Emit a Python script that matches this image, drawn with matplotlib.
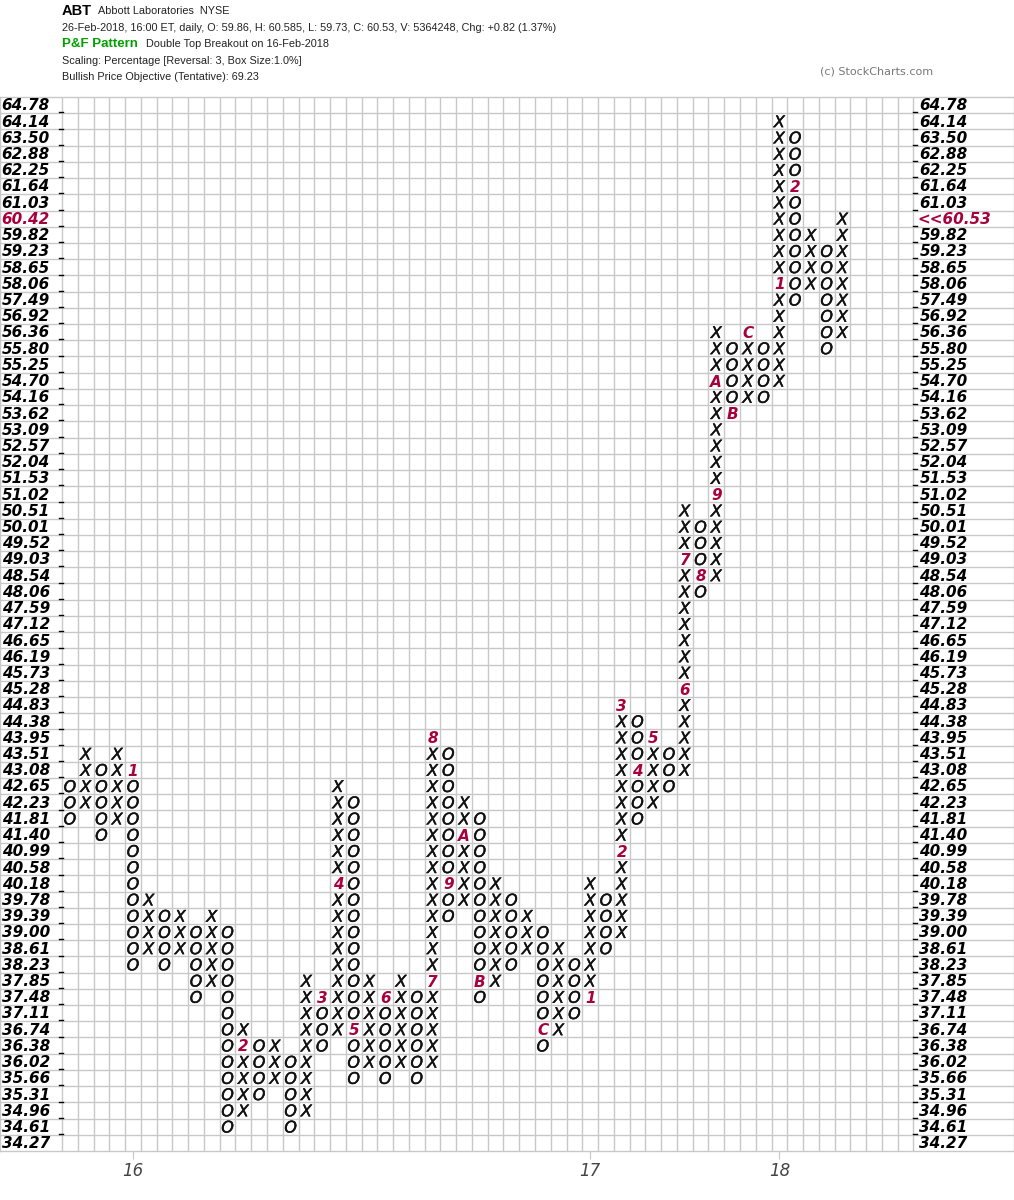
import matplotlib
matplotlib.use('Agg')
import matplotlib.pyplot as plt
import matplotlib.patheffects as pe

plt.rcParams['font.family'] = ['DejaVu Sans']

# box levels, top row first
levels = [64.78, 64.14, 63.50, 62.88, 62.25, 61.64, 61.03, 60.42, 59.82, 59.23,
          58.65, 58.06, 57.49, 56.92, 56.36, 55.80, 55.25, 54.70, 54.16, 53.62,
          53.09, 52.57, 52.04, 51.53, 51.02, 50.51, 50.01, 49.52, 49.03, 48.54,
          48.06, 47.59, 47.12, 46.65, 46.19, 45.73, 45.28, 44.83, 44.38, 43.95,
          43.51, 43.08, 42.65, 42.23, 41.81, 41.40, 40.99, 40.58, 40.18, 39.78,
          39.39, 39.00, 38.61, 38.23, 37.85, 37.48, 37.11, 36.74, 36.38, 36.02,
          35.66, 35.31, 34.96, 34.61, 34.27]

# one entry per P&F column
col_kind = "OXOXOXOXOXOXOXOXOXOXOXOXOXOXOXOXOXOXOXOXOXOXOXOXOX"
col_top = [42.65, 43.51, 43.08, 43.51, 43.08, 39.78, 39.39, 39.39, 39.00, 39.39,
           39.00, 36.74, 36.38, 36.38, 36.02, 37.85, 37.48, 42.65, 42.23, 37.85,
           37.48, 37.85, 37.48, 43.95, 43.51, 42.23, 41.81, 40.18, 39.78, 39.39,
           39.00, 38.61, 38.23, 40.18, 39.78, 44.83, 44.38, 43.95, 43.51, 50.51,
           50.01, 56.36, 55.80, 56.36, 55.80, 64.14, 63.50, 59.82, 59.23, 60.42]
col_bottom = [41.81, 42.23, 41.40, 41.81, 38.23, 38.61, 38.23, 38.61, 37.48, 37.85,
              34.61, 34.96, 35.31, 35.66, 34.61, 34.96, 36.38, 36.74, 35.66, 36.02,
              35.66, 36.02, 35.66, 36.02, 39.39, 39.78, 37.48, 37.85, 38.23, 38.61,
              36.38, 36.74, 37.11, 37.48, 38.61, 39.00, 41.81, 42.23, 42.65, 43.08,
              48.06, 48.54, 53.62, 54.16, 54.16, 54.70, 57.49, 58.06, 55.80, 56.36]

# month markers (1-9, A, B, C) replacing the first box of a month
month_col = [4, 11, 16, 17, 18, 20, 23, 23, 24, 25, 26, 30,
             33, 35, 35, 36, 37, 39, 39, 40, 41, 41, 42, 43, 45, 46]
month_price = [43.08, 36.38, 37.48, 40.18, 36.74, 37.48, 37.85, 43.95, 40.18, 41.40, 37.85, 36.74,
               37.48, 40.99, 44.83, 43.08, 43.95, 45.28, 49.03, 48.54, 51.02, 54.70, 53.62, 56.36,
               58.06, 61.64]
month_label = ['1', '2', '3', '4', '5', '6', '7', '8', '9', 'A', 'B', 'C',
               '1', '2', '3', '4', '5', '6', '7', '8', '9', 'A', 'B', 'C', '1', '2']

year_col = [4, 33, 45]
year_label = ['16', '17', '18']

last_level = 60.42
last_close = '<<60.53'
n_cols = 54

W, H = 1014, 1200
cw = 15.75   # px per column
left_px, right_px = 62, 912
top_px, bot_px = 97, 1151
grid_c = '#c8c8c8'
red = '#a8003c'


def row_of(price):
    return levels.index(price)


fig = plt.figure(figsize=(W / 100, H / 100), dpi=100)
ax = fig.add_axes([0.0, 1 - bot_px / H, 1.0, (bot_px - top_px) / H])
ax.set_xlim(-left_px / cw, (W - 1 - left_px) / cw)
ax.set_ylim(len(levels) - 0.5, -0.5)
for s in ax.spines.values():
    s.set_color(grid_c)
    s.set_linewidth(1.0)

# grid
for r in range(len(levels) - 1):
    ax.axhline(r + 0.5, color=grid_c, lw=1.0, zorder=1)
for c in range(n_cols + 1):
    ax.plot([c, c], [-0.5, len(levels) - 0.5], color=grid_c, lw=1.0, zorder=1)

# little dashes on both edges
for r in range(len(levels) - 1):
    ax.plot([-0.2, 0.05], [r + 0.45, r + 0.45], color='k', lw=1.0, zorder=2)
    ax.plot([n_cols - 0.05, n_cols + 0.2], [r + 0.45, r + 0.45], color='k', lw=1.0, zorder=2)

# price labels
lab_kw = dict(ha='left', va='center', fontsize=11, fontweight='bold', style='italic')
for r, p in enumerate(levels):
    c = red if p == last_level else 'k'
    ax.text(-3.84, r + 0.05, '%.2f' % p, color=c, **lab_kw)
    if p == last_level:
        ax.text(n_cols + 0.25, r + 0.05, last_close, color=red, **lab_kw)
    else:
        ax.text(n_cols + 0.38, r + 0.05, '%.2f' % p, color='k', **lab_kw)

# marks
thick = [pe.withStroke(linewidth=0.35, foreground='#111111')]
marks = {(c, p): l for c, p, l in zip(month_col, month_price, month_label)}
for c, kind in enumerate(col_kind):
    r0, r1 = row_of(col_top[c]), row_of(col_bottom[c])
    for r in range(r0, r1 + 1):
        key = (c, levels[r])
        if key in marks:
            ax.text(c + 0.5, r + 0.08, marks[key], ha='center', va='center', fontsize=11,
                    fontweight='bold', style='italic', color=red, zorder=3)
        else:
            ax.text(c + 0.5, r + 0.08, kind, ha='center', va='center', fontsize=11.5,
                    style='italic', color='#111111', zorder=3, path_effects=thick)

# year ticks
ax.set_yticks([])
ax.set_xticks([c + 0.5 for c in year_col])
ax.set_xticklabels(year_label, fontsize=12, style='italic', color='#444444')
ax.tick_params(axis='x', direction='out', length=6, color=grid_c, pad=2)

# header
hf = ['Liberation Sans', 'DejaVu Sans']
fig.text(62 / W, 1 - 11 / H, 'ABT', fontsize=10.5, fontweight='bold', family=hf, va='center')
fig.text(98 / W, 1 - 11 / H, 'Abbott Laboratories  NYSE', fontsize=7.8, family=hf,
         va='center', color='#222222')
fig.text(62 / W, 1 - 28 / H,
         '26-Feb-2018, 16:00 ET, daily, O: 59.86, H: 60.585, L: 59.73, C: 60.53, '
         'V: 5364248, Chg: +0.82 (1.37%)', fontsize=7.8, family=hf, va='center', color='#222222')
fig.text(62 / W, 1 - 44 / H, 'P&F Pattern', fontsize=9.5, fontweight='bold', family=hf,
         va='center', color='#00a000')
fig.text(146 / W, 1 - 44 / H, 'Double Top Breakout on 16-Feb-2018', fontsize=7.8, family=hf,
         va='center', color='#222222')
fig.text(62 / W, 1 - 61 / H, 'Scaling: Percentage [Reversal: 3, Box Size:1.0%]', fontsize=7.8,
         family=hf, va='center', color='#222222')
fig.text(62 / W, 1 - 77 / H, 'Bullish Price Objective (Tentative): 69.23', fontsize=7.8,
         family=hf, va='center', color='#222222')
fig.text(820 / W, 1 - 71 / H, '(c) StockCharts.com', fontsize=8, va='center', color='#777777')

fig.savefig('out.png', dpi=100)
